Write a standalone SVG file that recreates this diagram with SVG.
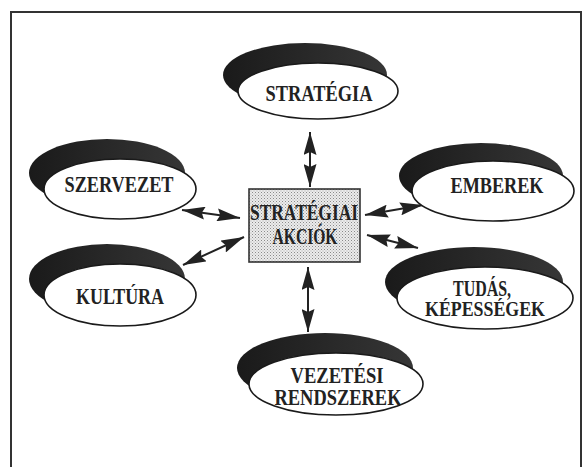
<svg xmlns="http://www.w3.org/2000/svg" width="585" height="467" viewBox="0 0 585 467">
<defs>
<style>
.front{fill:#fff;stroke:#1a1a1a;stroke-width:1.6}
.dark{fill:url(#dg)}
.lbl{font-family:"Liberation Serif","Times New Roman",serif;font-weight:bold;font-size:24px;fill:#222;text-anchor:middle}
.lbl2{font-size:22px}
.conn{stroke:#222;stroke-width:2;fill:none;marker-start:url(#ah);marker-end:url(#ah)}
</style>
<linearGradient id="dg" x1="0" y1="0" x2="1" y2="0">
<stop offset="0" stop-color="#1a1a1a"/>
<stop offset="1" stop-color="#363636"/>
</linearGradient>
<pattern id="dots" width="3" height="3" patternUnits="userSpaceOnUse">
<rect width="3" height="3" fill="#ececec"/>
<rect width="1" height="1" fill="#8a8a8a"/>
<rect x="1.5" y="1.5" width="1" height="1" fill="#aaa"/>
</pattern>
<marker id="ah" viewBox="0 0 23 13" refX="23" refY="6.5" markerWidth="23" markerHeight="13" markerUnits="userSpaceOnUse" orient="auto-start-reverse">
<path d="M0,0 L23,6.5 L0,13 L3,6.5 Z" fill="#222"/>
</marker>
</defs>
<rect width="585" height="467" fill="#fff"/>
<path d="M11,470 L11,12 L581,12 L581,470" fill="none" stroke="#333" stroke-width="2"/>

<g id="connectors">
<line class="conn" x1="310" y1="132" x2="310" y2="187"/>
<line class="conn" x1="308" y1="267" x2="308" y2="332"/>
<line class="conn" x1="182" y1="210" x2="240" y2="218"/>
<line class="conn" x1="183" y1="265" x2="244" y2="237"/>
<line class="conn" x1="423" y1="205" x2="365" y2="215"/>
<line class="conn" x1="418" y1="248" x2="367" y2="235"/>
</g>

<g id="strategia">
<ellipse class="dark" cx="305" cy="75" rx="82" ry="32"/>
<ellipse class="front" cx="318" cy="91" rx="80" ry="28"/>
<text class="lbl" x="319" y="101" textLength="107" lengthAdjust="spacingAndGlyphs">STRATÉGIA</text>
</g>

<g id="szervezet">
<ellipse class="dark" cx="107" cy="173" rx="78" ry="34"/>
<ellipse class="front" cx="120" cy="189" rx="76" ry="30"/>
<text class="lbl" x="119" y="192" textLength="109" lengthAdjust="spacingAndGlyphs">SZERVEZET</text>
</g>

<g id="emberek">
<ellipse class="dark" cx="481" cy="176" rx="82" ry="33"/>
<ellipse class="front" cx="493" cy="191" rx="81" ry="30"/>
<text class="lbl" x="497" y="193" textLength="93" lengthAdjust="spacingAndGlyphs">EMBEREK</text>
</g>

<g id="kultura">
<ellipse class="dark" cx="107" cy="279" rx="78" ry="35"/>
<ellipse class="front" cx="120" cy="295" rx="76" ry="31"/>
<text class="lbl" x="120" y="304" textLength="88" lengthAdjust="spacingAndGlyphs">KULTÚRA</text>
</g>

<g id="tudas">
<ellipse class="dark" cx="474" cy="282" rx="89" ry="35"/>
<ellipse class="front" cx="485" cy="298" rx="88" ry="31"/>
<text class="lbl" x="482" y="296" textLength="58" lengthAdjust="spacingAndGlyphs">TUDÁS,</text>
<text class="lbl lbl2" x="485" y="316" textLength="120" lengthAdjust="spacingAndGlyphs">KÉPESSÉGEK</text>
</g>

<g id="vezetesi">
<ellipse class="dark" cx="325" cy="368" rx="88" ry="35"/>
<ellipse class="front" cx="336" cy="384" rx="87" ry="31"/>
<text class="lbl" x="337" y="383" textLength="93" lengthAdjust="spacingAndGlyphs">VEZETÉSI</text>
<text class="lbl" x="338" y="405" textLength="127" lengthAdjust="spacingAndGlyphs">RENDSZEREK</text>
</g>

<g id="akciok">
<rect x="249" y="189" width="111" height="73" fill="url(#dots)" stroke="#333" stroke-width="1.6"/>
<text class="lbl" x="304" y="220" textLength="108" lengthAdjust="spacingAndGlyphs">STRATÉGIAI</text>
<text class="lbl" x="305" y="244" textLength="65" lengthAdjust="spacingAndGlyphs">AKCIÓK</text>
</g>
</svg>
